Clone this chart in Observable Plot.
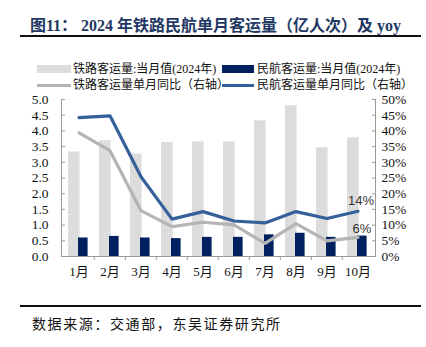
<!DOCTYPE html>
<html><head><meta charset="utf-8">
<script src="https://cdn.jsdelivr.net/npm/d3@7"></script>
<script src="https://cdn.jsdelivr.net/npm/@observablehq/plot@0.6"></script>
<style>
body{margin:0;background:#fff;width:426px;height:347px;position:relative;overflow:hidden;font-family:"Liberation Serif","Noto Sans CJK SC",serif;}
.abs{position:absolute;white-space:nowrap;}
#title{left:30px;top:12px;font-size:16px;font-weight:bold;color:#1f3864;font-family:"Liberation Serif","Noto Sans CJK SC",serif;}
.hr{position:absolute;left:20px;width:401px;height:2px;background:#111;}
.lg{font-size:12px;color:#111;line-height:14px;}
.sw{position:absolute;}
#src{left:32px;top:313px;font-size:14px;letter-spacing:1.6px;color:#111;}
#chart{position:absolute;left:0;top:0;}
</style></head><body>
<div id="chart"></div>
<div id="title" class="abs">图11： 2024 年铁路民航单月客运量（亿人次）及 yoy</div>
<div class="hr" style="top:35px"></div>
<div id="legend"></div>
<div class="hr" style="top:305px;height:1.5px"></div>
<div id="src" class="abs">数据来源：交通部，东吴证券研究所</div>
<script>
const months = ["1月","2月","3月","4月","5月","6月","7月","8月","9月","10月"];
const railVolume = [3.33,3.69,3.26,3.63,3.65,3.65,4.32,4.80,3.46,3.78];
const airVolume = [0.59,0.64,0.59,0.57,0.61,0.61,0.69,0.74,0.61,0.65];
const railYoy = [39.4,33.7,14.6,9.5,10.9,10.1,4.2,10.5,5.0,6.1];
const airYoy = [44.2,44.8,25.4,11.9,14.3,11.3,10.7,14.3,12.1,14.4];
const leftTicks = [0,0.5,1,1.5,2,2.5,3,3.5,4,4.5,5];
const seriesNames = ["铁路客运量:当月值(2024年)","民航客运量:当月值(2024年)","铁路客运量单月同比（右轴）","民航客运量单月同比（右轴）"];

const C_RAIL_BAR = "#dcdcdc", C_AIR_BAR = "#002060", C_RAIL_LINE = "#b4b4b4", C_AIR_LINE = "#35609a", C_AXIS = "#9a9a9a";

const data = months.map((m,i)=>({m, rail: railVolume[i], air: airVolume[i], ry: railYoy[i]/10, ay: airYoy[i]/10, ryRaw: railYoy[i], ayRaw: airYoy[i]}));
const last = data[data.length-1];
const bw = 314/10;

const chart = Plot.plot({
  width: 426, height: 290,
  marginLeft: 61, marginRight: 51, marginTop: 99, marginBottom: 34,
  style: {fontFamily: '"Liberation Serif","Noto Sans CJK SC",serif', fontSize: "13.5px", color: "#111", background: "transparent"},
  x: {type: "band", domain: months, padding: 0},
  y: {domain: [0,5]},
  marks: [
    Plot.barY(data, {x: "m", y: "rail", fill: C_RAIL_BAR, insetLeft: 5, insetRight: 14.4}),
    Plot.barY(data, {x: "m", y: "air", fill: C_AIR_BAR, insetLeft: 15, insetRight: 6.4}),
    Plot.line(data, {x: "m", y: "ry", stroke: C_RAIL_LINE, strokeWidth: 3.2}),
    Plot.line(data, {x: "m", y: "ay", stroke: C_AIR_LINE, strokeWidth: 3.2}),
    Plot.text([last], {x: "m", y: "ay", text: d => Math.round(d.ayRaw) + "%", dy: -10, dx: 3, fontFamily: '"Liberation Sans",Arial,sans-serif', fontSize: 13, fill: "#333"}),
    Plot.text([last], {x: "m", y: "ry", text: d => Math.round(d.ryRaw) + "%", dy: -9, dx: 4, fontFamily: '"Liberation Sans",Arial,sans-serif', fontSize: 13, fill: "#333"}),
    Plot.frame({anchor: "left", stroke: C_AXIS}),
    Plot.frame({anchor: "right", stroke: C_AXIS}),
    Plot.frame({anchor: "bottom", stroke: C_AXIS}),
    Plot.ruleX(months.slice(1), {x: d => d, y1: 0, y2: -0.13, dx: -bw/2, stroke: C_AXIS}),
    Plot.axisY({anchor: "left", ticks: leftTicks, tickFormat: d3.format(".1f"), tickSize: -4, tickPadding: 17, stroke: C_AXIS, label: null}),
    Plot.axisY({anchor: "right", ticks: leftTicks, tickFormat: d => Math.round(d*10) + "%", tickSize: -4, tickPadding: 10, stroke: C_AXIS, label: null}),
    Plot.axisX({tickSize: 0, tickPadding: 10, label: null, fontSize: 13})
  ]
});
document.getElementById("chart").appendChild(chart);

// legend
const lg = document.getElementById("legend");
const items = [
  {x:37, y:65, w:34, h:8, c:C_RAIL_BAR, tx:73, ty:62, t:seriesNames[0]},
  {x:222, y:65, w:32, h:8, c:C_AIR_BAR, tx:257, ty:62, t:seriesNames[1]},
  {x:37, y:84, w:34, h:3, c:C_RAIL_LINE, tx:73, ty:78, t:seriesNames[2]},
  {x:222, y:84, w:32, h:3, c:C_AIR_LINE, tx:257, ty:78, t:seriesNames[3]}
];
for (const it of items) {
  const s = document.createElement("div");
  s.className = "sw";
  s.style.cssText = `left:${it.x}px;top:${it.y}px;width:${it.w}px;height:${it.h}px;background:${it.c}`;
  lg.appendChild(s);
  const t = document.createElement("div");
  t.className = "abs lg";
  t.style.left = it.tx + "px"; t.style.top = it.ty + "px";
  t.textContent = it.t;
  lg.appendChild(t);
}
</script>
</body></html>
